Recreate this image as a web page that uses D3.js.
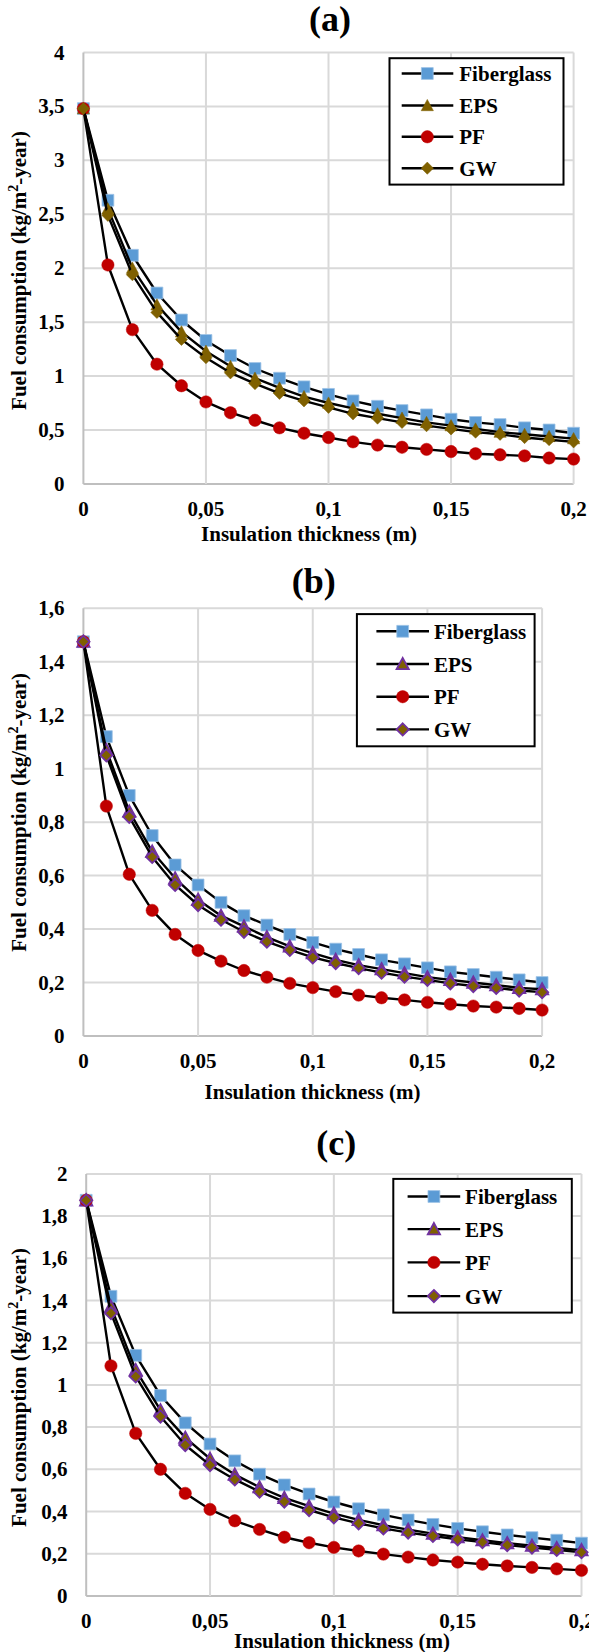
<!DOCTYPE html>
<html>
<head>
<meta charset="utf-8">
<script src="https://cdn.jsdelivr.net/npm/d3@7"></script>
<style>
body{margin:0;background:#fff;}
text{font-family:"Liberation Serif","Times New Roman",serif;font-weight:bold;fill:#000;}
</style>
</head>
<body>
<div id="chart"></div>
<script>
// shared x values (insulation thickness, m)
var thickness = [0,0.01,0.02,0.03,0.04,0.05,0.06,0.07,0.08,0.09,0.1,0.11,0.12,0.13,0.14,0.15,0.16,0.17,0.18,0.19,0.2];
var xTicks = [0,0.05,0.1,0.15,0.2];
var seriesNames = ["Fiberglass","EPS","PF","GW"];

// (a)
var fiberglassA = [3.48,2.63,2.12,1.77,1.52,1.33,1.19,1.07,0.98,0.90,0.83,0.77,0.72,0.68,0.64,0.60,0.57,0.55,0.52,0.50,0.47];
var epsA        = [3.48,2.55,2.00,1.66,1.41,1.23,1.09,0.98,0.89,0.81,0.75,0.70,0.65,0.61,0.57,0.54,0.51,0.48,0.46,0.44,0.42];
var pfA         = [3.48,2.03,1.43,1.11,0.91,0.76,0.66,0.59,0.52,0.47,0.43,0.39,0.36,0.34,0.32,0.30,0.28,0.27,0.26,0.24,0.23];
var gwA         = [3.48,2.49,1.94,1.59,1.34,1.17,1.03,0.93,0.84,0.77,0.71,0.65,0.61,0.57,0.54,0.51,0.48,0.46,0.43,0.41,0.39];
var yTicksA = [0,0.5,1,1.5,2,2.5,3,3.5,4];

// (b)
var fiberglassB = [1.475,1.12,0.90,0.75,0.64,0.565,0.50,0.45,0.415,0.38,0.35,0.325,0.305,0.285,0.27,0.255,0.24,0.23,0.22,0.21,0.20];
var epsB        = [1.475,1.07,0.84,0.69,0.59,0.51,0.45,0.41,0.37,0.335,0.31,0.285,0.265,0.25,0.235,0.22,0.21,0.20,0.19,0.18,0.175];
var pfB         = [1.475,0.86,0.605,0.47,0.38,0.32,0.28,0.245,0.22,0.197,0.181,0.166,0.153,0.143,0.135,0.126,0.119,0.112,0.108,0.103,0.097];
var gwB         = [1.475,1.05,0.82,0.67,0.565,0.49,0.435,0.39,0.353,0.322,0.294,0.273,0.254,0.237,0.222,0.21,0.197,0.187,0.18,0.17,0.164];
var yTicksB = [0,0.2,0.4,0.6,0.8,1,1.2,1.4,1.6];

// (c)
var fiberglassC = [1.875,1.42,1.14,0.95,0.82,0.72,0.64,0.577,0.526,0.483,0.445,0.413,0.384,0.36,0.339,0.32,0.304,0.289,0.276,0.264,0.25];
var epsC        = [1.875,1.37,1.07,0.88,0.75,0.65,0.575,0.515,0.465,0.425,0.39,0.36,0.335,0.314,0.295,0.278,0.264,0.25,0.238,0.227,0.217];
var pfC         = [1.875,1.09,0.77,0.60,0.486,0.41,0.356,0.315,0.278,0.252,0.23,0.213,0.198,0.184,0.17,0.16,0.15,0.142,0.135,0.128,0.121];
var gwC         = [1.875,1.34,1.04,0.85,0.715,0.62,0.552,0.494,0.447,0.407,0.372,0.344,0.32,0.30,0.284,0.268,0.255,0.241,0.229,0.218,0.207];
var yTicksC = [0,0.2,0.4,0.6,0.8,1,1.2,1.4,1.6,1.8,2];

var svg = d3.select('#chart').append('svg')
    .attr('width', 589)
    .attr('height', 1652);

// custom excel-like marker shapes
var excelDiamond = {draw: function(ctx, size){ var r = Math.sqrt(size)/2; ctx.moveTo(0,-r); ctx.lineTo(r,0); ctx.lineTo(0,r); ctx.lineTo(-r,0); ctx.closePath(); }};
var excelTriangle = {draw: function(ctx, size){ var r = Math.sqrt(size)/2; ctx.moveTo(0,-r); ctx.lineTo(r,r*0.85); ctx.lineTo(-r,r*0.85); ctx.closePath(); }};

var fmt = function(d){ return String(d).replace('.', ','); };

var panels = [
    {title:'(a)', series:[fiberglassA,epsA,pfA,gwA], yTicks:yTicksA, yMax:4, purple:false,
     tX:330, tY:31, l:83.4, r:573.6, t:52.5, b:483.9, xTickY:516, xTitleX:309, xTitleY:541,
     yTickR:64.6, yTitleY:270.5,
     leg:{x0:389.5, x1:563.5, y0:58.2, y1:184.6, rows:[73.5,105.5,136.8,168.2], lx0:401.7, lx1:453.3, mx:427.3, tx:459.3}},
    {title:'(b)', series:[fiberglassB,epsB,pfB,gwB], yTicks:yTicksB, yMax:1.6, purple:true,
     tX:313.7, tY:593, l:83.4, r:542.1, t:608.3, b:1036, xTickY:1068, xTitleX:312.5, xTitleY:1099,
     yTickR:64.6, yTitleY:812.3,
     leg:{x0:356.9, x1:534.6, y0:614.1, y1:746.3, rows:[631.3,664,696.7,729.4], lx0:376.4, lx1:429, mx:402.7, tx:433.9}},
    {title:'(c)', series:[fiberglassC,epsC,pfC,gwC], yTicks:yTicksC, yMax:2, purple:true,
     tX:336.2, tY:1155, l:86.2, r:581.5, t:1173.9, b:1595.9, xTickY:1627.5, xTitleX:342, xTitleY:1647.5,
     yTickR:67.6, yTitleY:1387.5,
     leg:{x0:393.3, x1:571.8, y0:1178.9, y1:1312.6, rows:[1196.5,1229.1,1262.4,1296.1], lx0:407.6, lx1:460.2, mx:433.9, tx:465.1}}
];

function markerStyle(i, purple){
    // Fiberglass, EPS, PF, GW
    if (i == 0) return {type:d3.symbolSquare, size:140, fill:'#5b9bd5', stroke:'#9dc3e6', sw:0.8};
    if (i == 1) return {type:excelTriangle, size:150, fill:'#7f6000', stroke: purple ? '#7030a0' : '#7f6000', sw: purple ? 1.8 : 0.5};
    if (i == 2) return {type:d3.symbolCircle, size:120, fill:'#c00000', stroke:'#c00000', sw:0.5};
    return {type:excelDiamond, size:150, fill:'#7f6000', stroke: purple ? '#7030a0' : '#7f6000', sw: purple ? 1.8 : 0.5};
}

panels.forEach(function(p){
    var g = svg.append('g').attr('class','panel');

    var scaleX = d3.scaleLinear().domain([0,0.2]).range([p.l,p.r]);
    var scaleY = d3.scaleLinear().domain([0,p.yMax]).range([p.b,p.t]);

    // gridlines
    g.append('g').selectAll('line.hgrid')
        .data(p.yTicks).enter()
        .append('line')
        .attr('x1',p.l).attr('x2',p.r)
        .attr('y1',function(d){return scaleY(d);})
        .attr('y2',function(d){return scaleY(d);})
        .attr('stroke', function(d){ return d == 0 ? '#bfbfbf' : '#d9d9d9'; })
        .attr('stroke-width',2);
    g.append('g').selectAll('line.vgrid')
        .data(xTicks).enter()
        .append('line')
        .attr('y1',p.t).attr('y2',p.b)
        .attr('x1',function(d){return scaleX(d);})
        .attr('x2',function(d){return scaleX(d);})
        .attr('stroke', function(d){ return d == 0 ? '#bfbfbf' : '#d9d9d9'; })
        .attr('stroke-width',2);

    // tick labels
    g.append('g').selectAll('text')
        .data(p.yTicks).enter()
        .append('text')
        .attr('x',p.yTickR)
        .attr('y',function(d){return scaleY(d) + 7;})
        .attr('text-anchor','end')
        .attr('font-size',21)
        .text(fmt);
    g.append('g').selectAll('text')
        .data(xTicks).enter()
        .append('text')
        .attr('x',function(d){return scaleX(d);})
        .attr('y',p.xTickY)
        .attr('text-anchor','middle')
        .attr('font-size',21)
        .text(fmt);

    // titles
    g.append('text').attr('x',p.tX).attr('y',p.tY).attr('text-anchor','middle')
        .attr('font-size',36).text(p.title);
    g.append('text').attr('x',p.xTitleX).attr('y',p.xTitleY).attr('text-anchor','middle')
        .attr('font-size',21).text('Insulation thickness (m)');
    var yt = g.append('text')
        .attr('transform','translate(26,' + p.yTitleY + ') rotate(-90)')
        .attr('text-anchor','middle')
        .attr('font-size',21);
    yt.append('tspan').text('Fuel consumption (kg/m');
    yt.append('tspan').attr('font-size',14).attr('dy',-8).text('2');
    yt.append('tspan').attr('dy',8).text('-year)');

    // series
    var line = d3.line()
        .x(function(d,i){ return scaleX(thickness[i]); })
        .y(function(d){ return scaleY(d); });

    p.series.forEach(function(values, si){
        var ms = markerStyle(si, p.purple);
        var sg = g.append('g').attr('class','series');
        sg.append('path')
            .datum(values)
            .attr('d',line)
            .attr('fill','none')
            .attr('stroke','#000')
            .attr('stroke-width',2.4)
            .attr('stroke-linejoin','round');
        sg.selectAll('path.mark')
            .data(values).enter()
            .append('path')
            .attr('class','mark')
            .attr('transform',function(d,i){ return 'translate(' + scaleX(thickness[i]) + ',' + scaleY(d) + ')'; })
            .attr('d', d3.symbol().type(ms.type).size(ms.size))
            .attr('fill',ms.fill)
            .attr('stroke',ms.stroke)
            .attr('stroke-width',ms.sw);
    });

    // legend
    var L = p.leg;
    var lg = g.append('g').attr('class','legend');
    lg.append('rect')
        .attr('x',L.x0).attr('y',L.y0)
        .attr('width',L.x1 - L.x0).attr('height',L.y1 - L.y0)
        .attr('fill','#fff').attr('stroke','#000').attr('stroke-width',2);
    seriesNames.forEach(function(name, si){
        var ms = markerStyle(si, p.purple);
        var yy = L.rows[si];
        lg.append('line').attr('x1',L.lx0).attr('x2',L.lx1).attr('y1',yy).attr('y2',yy)
            .attr('stroke','#000').attr('stroke-width',2.4);
        lg.append('path')
            .attr('transform','translate(' + L.mx + ',' + yy + ')')
            .attr('d', d3.symbol().type(ms.type).size(ms.size))
            .attr('fill',ms.fill).attr('stroke',ms.stroke).attr('stroke-width',ms.sw);
        lg.append('text').attr('x',L.tx).attr('y',yy + 7.5)
            .attr('font-size',21).text(name);
    });
});
</script>
</body>
</html>
